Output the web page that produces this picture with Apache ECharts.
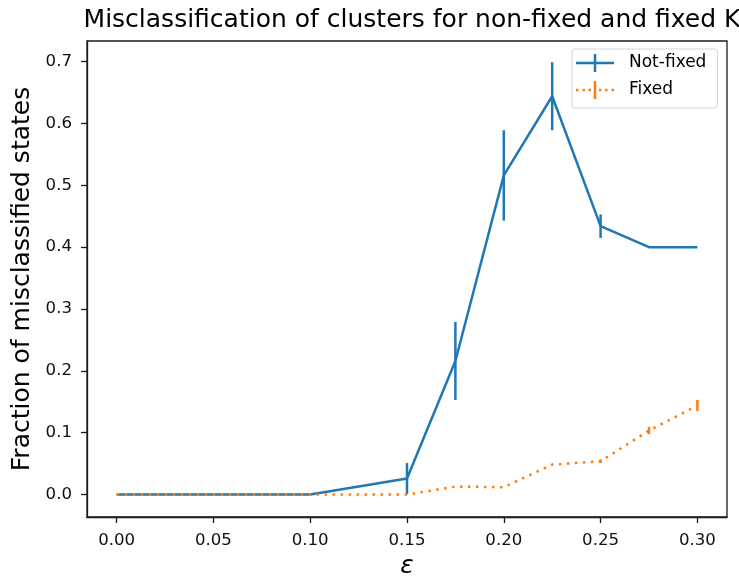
<!DOCTYPE html>
<html>
<head>
<meta charset="utf-8">
<script src="https://cdn.jsdelivr.net/npm/echarts@6/dist/echarts.min.js"></script>
<style>
  html, body { margin: 0; padding: 0; background: #fff; }
  #chart { width: 739px; height: 576px; }
</style>
</head>
<body>
<div id="chart"></div>
<script>
// Noise level epsilon for each run
const epsilon = [0.0, 0.05, 0.1, 0.15, 0.175, 0.2, 0.225, 0.25, 0.275, 0.3];

// Mean fraction of misclassified states and its spread, K not fixed
const notFixedMean = [0.0, 0.0, 0.0, 0.026, 0.216, 0.516, 0.644, 0.434, 0.400, 0.400];
const notFixedErr  = [0.0, 0.0, 0.0, 0.025, 0.063, 0.073, 0.055, 0.019, 0.0, 0.0];

// Same quantities with K fixed
const fixedMean = [0.0, 0.0, 0.0, 0.0, 0.013, 0.012, 0.0485, 0.054, 0.1035, 0.144];
const fixedErr  = [0.0, 0.0, 0.0, 0.0, 0.0, 0.0, 0.0, 0.003, 0.006, 0.009];

// Tick positions and their labels
const xTicks = [0.0, 0.05, 0.1, 0.15, 0.2, 0.25, 0.3];
const xTickLabels = ['0.00', '0.05', '0.10', '0.15', '0.20', '0.25', '0.30'];
const yTicks = [0.0, 0.1, 0.2, 0.3, 0.4, 0.5, 0.6, 0.7];
const yTickLabels = ['0.0', '0.1', '0.2', '0.3', '0.4', '0.5', '0.6', '0.7'];

const BLUE = '#1f77b4';
const ORANGE = '#ff7f0e';
const FONT = 'DejaVu Sans';

function pairs(xs, ys) { return xs.map((x, i) => [x, ys[i]]); }
function errRows(xs, ys, es) { return xs.map((x, i) => [x, ys[i] - es[i], ys[i] + es[i]]); }

function errorBarRenderer(color) {
  return function (params, api) {
    const lo = api.coord([api.value(0), api.value(1)]);
    const hi = api.coord([api.value(0), api.value(2)]);
    return {
      type: 'line',
      shape: { x1: lo[0], y1: lo[1], x2: hi[0], y2: hi[1] },
      style: { stroke: color, lineWidth: 2.5, lineCap: 'butt' }
    };
  };
}

const chart = echarts.init(document.getElementById('chart'), null, { renderer: 'canvas' });

const solidIcon = 'path://M0,7.75h38v2.5h-38z M17.75,0h2.5v18h-2.5z';
const dottedIcon = 'path://M0,7.75h2.5v2.5h-2.5z M6.5,7.75h2.5v2.5h-2.5z M12.5,7.75h2.5v2.5h-2.5z ' +
  'M17.75,0h2.5v18h-2.5z M23,7.75h2.5v2.5h-2.5z M29,7.75h2.5v2.5h-2.5z M35.5,7.75h2.5v2.5h-2.5z';

chart.setOption({
  animation: false,
  backgroundColor: '#fff',
  textStyle: { fontFamily: FONT },
  title: {
    text: 'Misclassification of clusters for non-fixed and fixed K',
    left: 407,
    textAlign: 'center',
    top: 3,
    textStyle: { fontFamily: FONT, fontSize: 25, fontWeight: 'normal', color: '#000' }
  },
  legend: {
    data: [
      { name: 'Not-fixed', icon: solidIcon },
      { name: 'Fixed', icon: dottedIcon }
    ],
    orient: 'vertical',
    left: 572,
    top: 49,
    padding: [5, 11, 9, 4],
    itemWidth: 38,
    itemHeight: 18,
    itemGap: 9,
    backgroundColor: 'rgba(255,255,255,0.8)',
    borderColor: '#d4d4d4',
    borderWidth: 1,
    borderRadius: 3,
    itemStyle: { borderWidth: 0 },
    textStyle: { fontFamily: FONT, fontSize: 17, color: '#000', padding: [0, 0, 0, 10] }
  },
  grid: {
    left: 87, top: 41, right: 12, bottom: 59,
    outerBoundsMode: 'none',
    containLabel: false,
    show: true, borderColor: '#1a1a1a', borderWidth: 1.3, backgroundColor: 'transparent'
  },
  xAxis: {
    type: 'value',
    min: -0.0153,
    max: 0.3153,
    name: 'ε',
    nameLocation: 'middle',
    nameGap: 37,
    nameTextStyle: { fontFamily: FONT, fontStyle: 'italic', fontSize: 25, color: '#000' },
    axisLine: { show: true, onZero: false, lineStyle: { color: '#1a1a1a', width: 1.3 } },
    axisTick: { show: true, length: 6, lineStyle: { color: '#1a1a1a', width: 1.3 }, customValues: xTicks },
    axisLabel: {
      show: true, margin: 15, fontFamily: FONT, fontSize: 16.6, color: '#111',
      customValues: xTicks,
      formatter: v => xTickLabels[xTicks.findIndex(t => Math.abs(t - v) < 1e-9)]
    },
    splitLine: { show: false }
  },
  yAxis: {
    type: 'value',
    min: -0.0362,
    max: 0.7333,
    name: 'Fraction of misclassified states',
    nameLocation: 'middle',
    nameGap: 46,
    nameRotate: 90,
    nameTextStyle: { fontFamily: FONT, fontSize: 25, color: '#000' },
    axisLine: { show: true, onZero: false, lineStyle: { color: '#1a1a1a', width: 1.3 } },
    axisTick: { show: true, length: 6, lineStyle: { color: '#1a1a1a', width: 1.3 }, customValues: yTicks },
    axisLabel: {
      show: true, margin: 15, fontFamily: FONT, fontSize: 16.6, color: '#111',
      customValues: yTicks,
      formatter: v => yTickLabels[yTicks.findIndex(t => Math.abs(t - v) < 1e-9)]
    },
    splitLine: { show: false }
  },
  series: [
    {
      name: 'Not-fixed',
      type: 'line',
      data: pairs(epsilon, notFixedMean),
      color: BLUE,
      symbol: 'none',
      lineStyle: { color: BLUE, width: 2.5 },
      z: 2
    },
    {
      name: 'notFixedErrorBars',
      type: 'custom',
      data: errRows(epsilon, notFixedMean, notFixedErr),
      renderItem: errorBarRenderer(BLUE),
      encode: { x: 0, y: [1, 2] },
      z: 3
    },
    {
      name: 'Fixed',
      type: 'line',
      data: pairs(epsilon, fixedMean),
      color: ORANGE,
      symbol: 'none',
      lineStyle: { color: ORANGE, width: 2.5, type: [2.5, 5.5], cap: 'butt' },
      z: 4
    },
    {
      name: 'fixedErrorBars',
      type: 'custom',
      data: errRows(epsilon, fixedMean, fixedErr),
      renderItem: errorBarRenderer(ORANGE),
      encode: { x: 0, y: [1, 2] },
      z: 5
    }
  ]
});
</script>
</body>
</html>
